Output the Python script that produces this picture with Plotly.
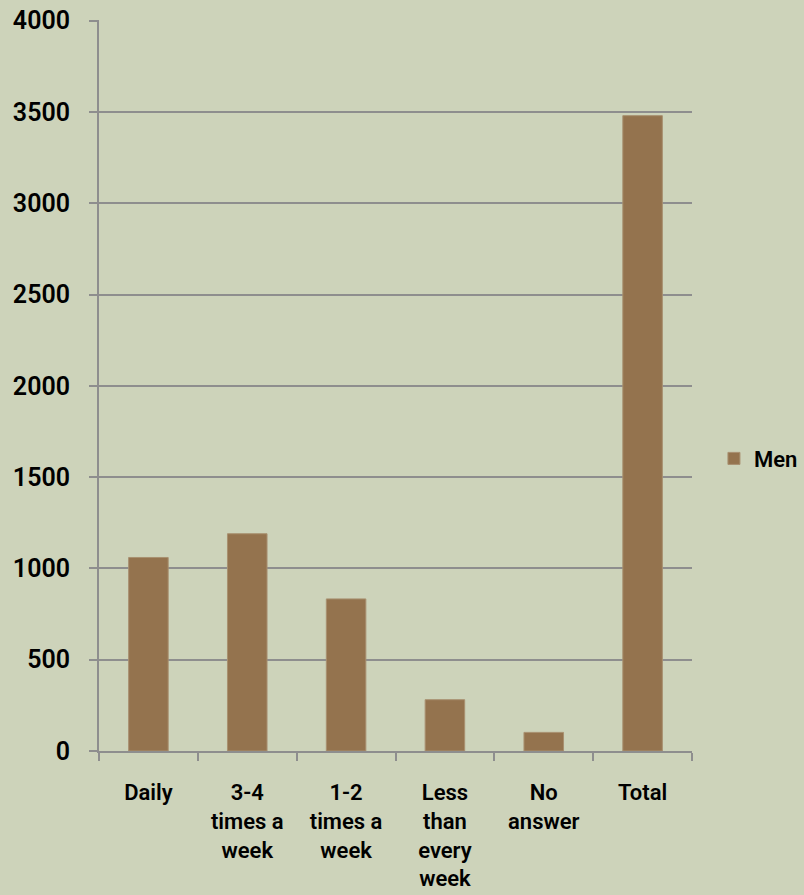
import plotly.graph_objects as go

categories = ["Daily", "3-4<br>times a<br>week", "1-2<br>times a<br>week", "Less<br>than<br>every<br>week", "No<br>answer", "Total"]
men = [1060, 1190, 833, 281, 102, 3480]
y_ticks = [0, 500, 1000, 1500, 2000, 2500, 3000, 3500, 4000]

BG = "#CDD3BA"
BAR = "#94734E"
GRID = "#8E8E8E"
FONT = "Roboto, Arial, sans-serif"

fig = go.Figure()
fig.add_trace(go.Bar(
    x=categories, y=men, name="Men",
    marker=dict(color=BAR, line=dict(color="#A89070", width=1)),
    width=0.4,
))

fig.update_layout(
    width=804, height=895,
    paper_bgcolor=BG, plot_bgcolor=BG,
    margin=dict(l=99, r=112, t=20, b=144, autoexpand=False),
    font=dict(family=FONT, color="#000000"),
    showlegend=True,
    legend=dict(x=1.037, y=0.40, xref="paper", yref="paper", xanchor="left", yanchor="middle",
                font=dict(size=22, weight=600), bgcolor="rgba(0,0,0,0)",
                itemwidth=30),
    xaxis=dict(
        showline=True, linecolor=GRID, linewidth=2,
        ticks="outside", ticklen=8, tickcolor=GRID, tickwidth=2,
        tickson="boundaries",
        tickfont=dict(size=22, weight=600),
        ticklabelstandoff=21,
        showgrid=False, automargin=False,
    ),
    yaxis=dict(
        range=[0, y_ticks[-1] * 1.001], tickvals=y_ticks,
        showline=True, linecolor=GRID, linewidth=2,
        ticks="outside", ticklen=8, tickcolor=GRID, tickwidth=2,
        showgrid=True, gridcolor=GRID, gridwidth=2,
        zeroline=False,
        tickfont=dict(size=25, weight=600),
        ticklabelstandoff=14, automargin=False,
    ),
)

fig.write_html("out.html", config={"displayModeBar": False},
               post_script="document.body.style.margin='0';document.body.style.overflow='hidden';")
